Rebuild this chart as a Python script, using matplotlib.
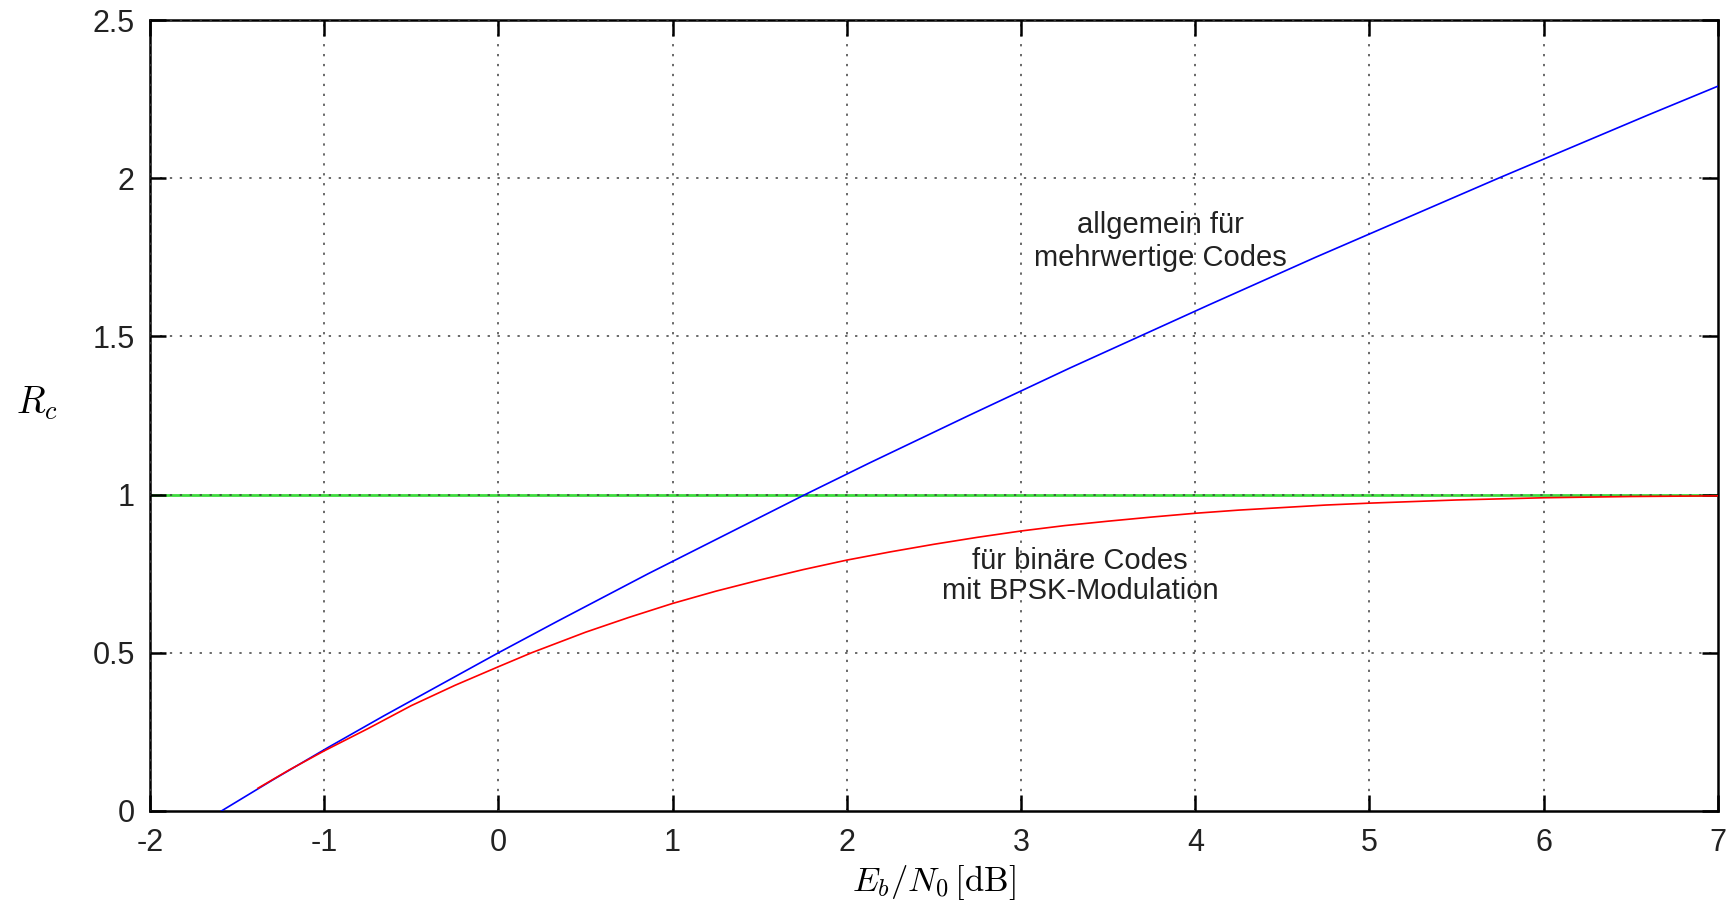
import matplotlib
matplotlib.use("Agg")
import matplotlib.pyplot as plt

plt.rcParams['mathtext.fontset'] = 'cm'
plt.rcParams['font.family'] = ['Liberation Sans', 'DejaVu Sans']

# allgemein (Shannon-Grenze): Eb/N0 in dB, Rc
blue_x = [-1.59, -1.44, -1.29, -0.98, -0.66, -0.33, 0.0, 0.34, 0.86, 1.40, 1.76,
          2.13, 2.70, 3.28, 3.68, 4.08, 4.69, 5.32, 5.74, 6.17, 6.60, 7.04]
blue_y = [0.0, 0.05, 0.1, 0.2, 0.3, 0.4, 0.5, 0.6, 0.75, 0.9, 1.0,
          1.1, 1.25, 1.4, 1.5, 1.6, 1.75, 1.9, 2.0, 2.1, 2.2, 2.3]

# binaer, BPSK
red_x = [-1.38, -1.2, -1.0, -0.75, -0.5, -0.25, 0.0, 0.19, 0.5, 0.75, 1.0, 1.25, 1.5,
         1.75, 2.0, 2.25, 2.5, 2.75, 3.0, 3.25, 3.5, 3.75, 4.0, 4.25, 4.5, 4.75, 5.0,
         5.5, 6.0, 6.5, 7.0]
red_y = [0.072, 0.13, 0.19, 0.26, 0.333, 0.397, 0.456, 0.5, 0.565, 0.612, 0.656, 0.695, 0.73,
         0.763, 0.793, 0.819, 0.843, 0.865, 0.885, 0.902, 0.916, 0.929, 0.941, 0.951, 0.959,
         0.967, 0.973, 0.983, 0.990, 0.994, 0.996]

x_ticks = [-2, -1, 0, 1, 2, 3, 4, 5, 6, 7]
y_ticks = [0, 0.5, 1, 1.5, 2, 2.5]
y_labels = ['0', '0.5', '1', '1.5', '2', '2.5']

fig = plt.figure(figsize=(17.3, 9.11), dpi=100)
ax = fig.add_axes([0.0867, 0.1098, 0.9063, 0.8682])

ax.axhline(1.0, color='#3ddc3d', linewidth=2.0, zorder=1)
ax.plot(blue_x, blue_y, color='#0000ff', linewidth=1.2, zorder=3)
ax.plot(red_x, red_y, color='#ff0000', linewidth=1.2, zorder=3)

ax.set_xlim(-2, 7)
ax.set_ylim(0, 2.5)
ax.set_xticks(x_ticks)
ax.set_xticklabels([str(t) for t in x_ticks])
ax.set_yticks(y_ticks)
ax.set_yticklabels(y_labels)

ax.grid(True, color='0.25', linestyle=(0, (1.5, 5)), linewidth=1.1)
ax.set_axisbelow(False)
ax.tick_params(direction='in', length=11.5, width=1.8, top=True, right=True,
               labelsize=22, colors='black', labelcolor='#222222')
ax.tick_params(axis='x', pad=12)
ax.tick_params(axis='y', pad=11)
for s in ax.spines.values():
    s.set_linewidth(1.8)

ax.set_xlabel(r'$E_b/N_0\,[\mathrm{dB}]$', fontsize=25, labelpad=4)
fig.text(37 / 1730, 1 - 403 / 911, r'$R_c$', fontsize=27, ha='center', va='center')

ax.text(3.80, 1.80, 'allgemein für\nmehrwertige Codes', fontsize=21, ha='center',
        va='center', linespacing=1.2, color='#222222')
ax.text(3.34, 0.743, 'für binäre Codes\nmit BPSK-Modulation', fontsize=21, ha='center',
        va='center', linespacing=1.1, color='#222222')

fig.savefig('out.png', dpi=100)
